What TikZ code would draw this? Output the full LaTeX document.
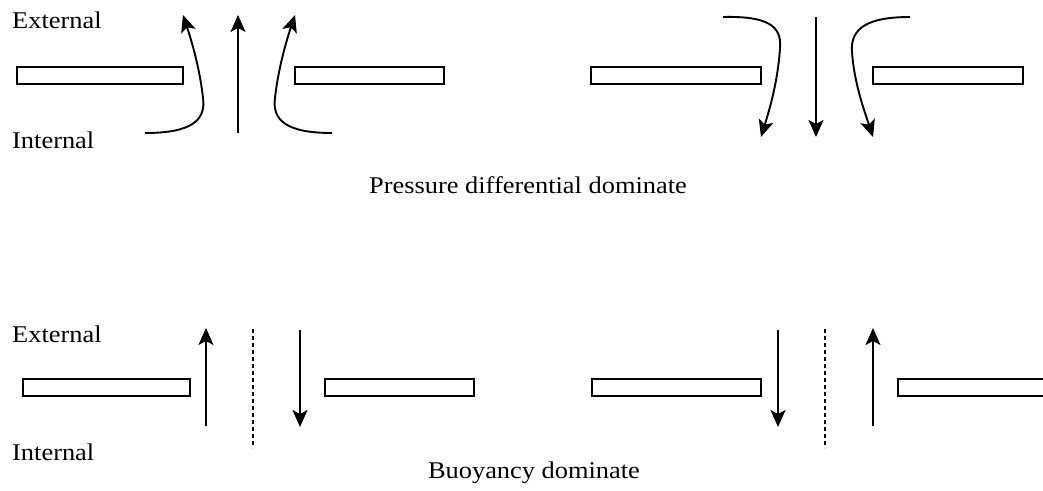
\documentclass[tikz,border=0pt]{standalone}
\usepackage{fontspec}
\setmainfont{Liberation Serif}[FakeStretch=1.1]
\usetikzlibrary{arrows.meta}
\begin{document}
\begin{tikzpicture}[x=1pt,y=-1pt,
  plate/.style={draw,line width=1.8pt,inner sep=0pt,minimum height=17pt,anchor=north west},
  flow/.style={line width=1.9pt,-{Stealth[length=17pt,width=15pt,inset=4pt]}},
  divider/.style={line width=1.5pt,dash pattern=on 4pt off 3pt},
  lbl/.style={inner sep=0pt,anchor=base west,font=\fontsize{24}{28}\selectfont},
  captxt/.style={inner sep=0pt,anchor=base,font=\fontsize{24}{28}\selectfont}]
\useasboundingbox (0,0) rectangle (1043,490);
\clip (0,0) rectangle (1043,490);
% ---------- top row ----------
\node[lbl] (ext1) at (12,28) {External};
\node[lbl] (int1) at (12,148) {Internal};
\node[plate,minimum width=166pt] (p1) at (16,66) {};
\node[plate,minimum width=149pt] (p2) at (294,66) {};
\node[plate,minimum width=170pt] (p3) at (590,66) {};
\node[plate,minimum width=150pt] (p4) at (872,66) {};
\node[captxt] (cap1) at (528,193) {Pressure differential dominate};
% outflow arrows
\coordinate (a1s) at (145,133);
\coordinate (a1e) at (183,15);
\coordinate (a2s) at (238,133);
\coordinate (a2e) at (238,15);
\coordinate (a3s) at (332,133);
\coordinate (a3e) at (295,15);
\draw[flow] (a1s) .. controls (192,133) and (206,120) .. (203,98) .. controls (200,70) and (192,42) .. (a1e);
\draw[flow] (a2s) -- (a2e);
\draw[flow] (a3s) .. controls (286,133) and (272,120) .. (275,98) .. controls (278,70) and (286,42) .. (a3e);
% inflow arrows
\coordinate (b1s) at (723,17);
\coordinate (b1e) at (761,137);
\coordinate (b2s) at (816,17);
\coordinate (b2e) at (816,137);
\coordinate (b3s) at (910,17);
\coordinate (b3e) at (873,137);
\draw[flow] (b1s) .. controls (766,16) and (782,25) .. (780,48) .. controls (778,80) and (770,108) .. (b1e);
\draw[flow] (b2s) -- (b2e);
\draw[flow] (b3s) .. controls (868,17) and (850,28) .. (852,52) .. controls (854,82) and (864,110) .. (b3e);
% ---------- bottom row ----------
\node[lbl] (ext2) at (12,342) {External};
\node[lbl] (int2) at (12,460) {Internal};
\node[plate,minimum width=167pt] (p5) at (22,378) {};
\node[plate,minimum width=149pt] (p6) at (324,378) {};
\node[plate,minimum width=169pt] (p7) at (591,378) {};
\node[plate,minimum width=220pt] (p8) at (897,378) {};
\node[captxt] (cap2) at (534,478) {Buoyancy dominate};
\coordinate (c1s) at (206,426);
\coordinate (c1e) at (206,328);
\coordinate (d1s) at (253,329);
\coordinate (d1e) at (253,448);
\coordinate (c2s) at (300,330);
\coordinate (c2e) at (300,427);
\draw[flow] (c1s) -- (c1e);
\draw[divider] (d1s) -- (d1e);
\draw[flow] (c2s) -- (c2e);
\coordinate (c3s) at (778,330);
\coordinate (c3e) at (778,427);
\coordinate (d2s) at (825,329);
\coordinate (d2e) at (825,448);
\coordinate (c4s) at (873,426);
\coordinate (c4e) at (873,328);
\draw[flow] (c3s) -- (c3e);
\draw[divider] (d2s) -- (d2e);
\draw[flow] (c4s) -- (c4e);
\end{tikzpicture}
\end{document}
